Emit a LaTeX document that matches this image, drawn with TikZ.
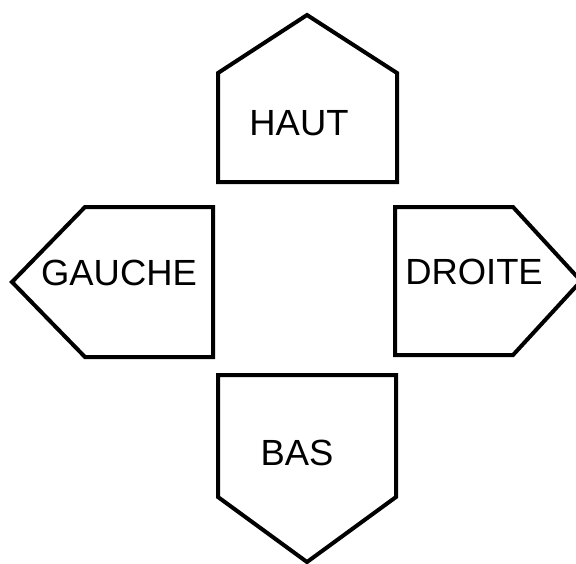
\documentclass[tikz,border=0pt]{standalone}
\usepackage{fontspec}
\setmainfont{Liberation Sans}
\tikzset{
  fleche/.style = {draw, line width=2pt, line join=miter, fill=white},
  etiq/.style   = {inner sep=0pt, font=\fontsize{18.2}{22}\selectfont}
}
\begin{document}
\begin{tikzpicture}[x=0.5pt, y=-0.5pt]
  \useasboundingbox (0,0) rectangle (576,563);

  % HAUT
  \path[fleche] (218,182) -- (218,73) -- (307,15) -- (397,73) -- (397,182) -- cycle;
  \node[etiq] (haut) at (299,123) {HAUT};

  % GAUCHE
  \path[fleche] (213,207) -- (85,207) -- (12,282) -- (85,357) -- (213,357) -- cycle;
  \node[etiq] (gauche) at (119,273) {GAUCHE};

  % DROITE
  \path[fleche] (395,207) -- (513,207) -- (581,281) -- (513,355) -- (395,355) -- cycle;
  \node[etiq] (droite) at (474,272) {DROITE};

  % BAS
  \path[fleche] (218,375) -- (396,375) -- (396,497) -- (307,562) -- (218,497) -- cycle;
  \node[etiq] (bas) at (297,453) {BAS};

\end{tikzpicture}
\end{document}
